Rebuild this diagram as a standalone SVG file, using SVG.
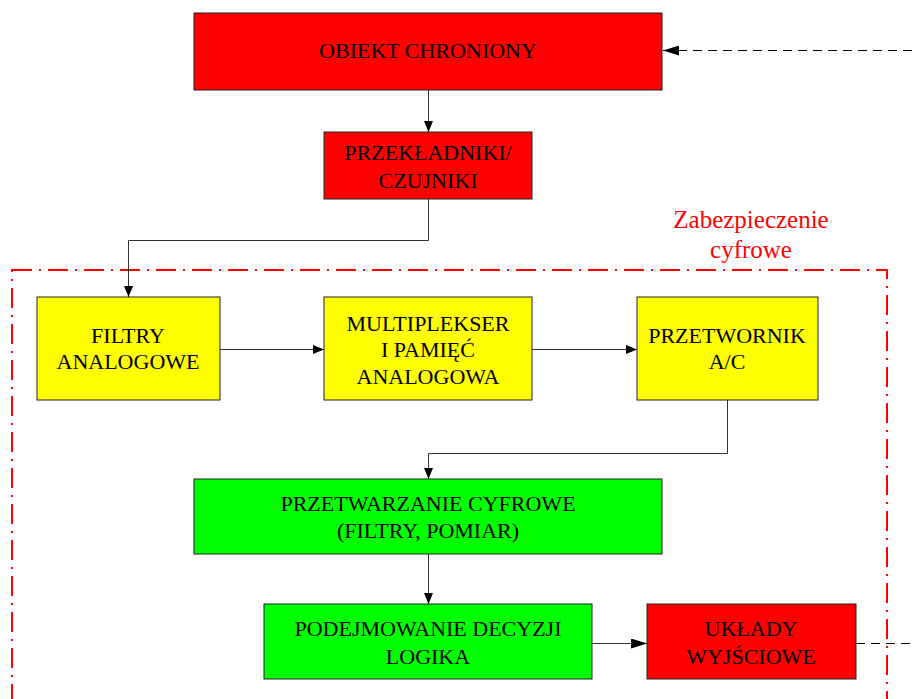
<svg xmlns="http://www.w3.org/2000/svg" width="912" height="699" viewBox="0 0 912 699">
<style>
.box{stroke:#222;stroke-width:1}
.red{fill:#ff0000}
.yel{fill:#ffff00}
.grn{fill:#00ff00}
text{font-family:"Liberation Serif","Times New Roman",serif;font-size:22px;fill:#000;text-anchor:middle}
.lbl{fill:#ff0000;font-size:25px}
.con{fill:none;stroke:#333;stroke-width:1}
.dash{fill:none;stroke:#000;stroke-width:1.2;stroke-dasharray:9,6}
</style>
<defs>
<marker id="a" markerWidth="11" markerHeight="9" refX="11" refY="4.5" orient="auto" markerUnits="userSpaceOnUse"><path d="M0,0L11,4.5L0,9Z" fill="#000"/></marker>
<marker id="b" markerWidth="16" markerHeight="10" refX="16" refY="5" orient="auto" markerUnits="userSpaceOnUse"><path d="M0,0L16,5L0,10Z" fill="#000"/></marker>
</defs>
<g id="border">
<rect x="12" y="270" width="875" height="440" fill="none" stroke="#ff0000" stroke-width="2" stroke-dasharray="20,7,2,7"/>
<text class="lbl" x="751" y="228">Zabezpieczenie</text>
<text class="lbl" x="751" y="258">cyfrowe</text>
</g>
<g id="connectors">
<path class="con" d="M428.5,90V132" marker-end="url(#a)"/>
<path class="con" d="M428.5,199V240.5H128.5V297" marker-end="url(#a)"/>
<path class="con" d="M220,349.5H324" marker-end="url(#a)"/>
<path class="con" d="M532,349.5H637" marker-end="url(#a)"/>
<path class="con" d="M727.5,400V453.5H428.5V479" marker-end="url(#a)"/>
<path class="con" d="M428.5,554V604" marker-end="url(#a)"/>
<path class="con" d="M592,643.5H647" marker-end="url(#b)"/>
<path class="dash" d="M856,643.5H912"/>
<path class="dash" d="M912,50.5H663" marker-end="url(#b)"/>
</g>
<g id="obiekt"><rect class="box red" x="194" y="13" width="468" height="77"/><text x="428" y="58">OBIEKT CHRONIONY</text></g>
<g id="przekladniki"><rect class="box red" x="324" y="132" width="208" height="67"/><text x="428" y="160">PRZEKŁADNIKI/</text><text x="428" y="188">CZUJNIKI</text></g>
<g id="filtry"><rect class="box yel" x="37" y="297" width="183" height="103"/><text x="128" y="343">FILTRY</text><text x="128" y="369">ANALOGOWE</text></g>
<g id="multiplekser"><rect class="box yel" x="324" y="297" width="208" height="103"/><text x="428" y="331">MULTIPLEKSER</text><text x="428" y="357">I PAMIĘĆ</text><text x="428" y="384">ANALOGOWA</text></g>
<g id="przetwornik"><rect class="box yel" x="637" y="297" width="181" height="103"/><text x="727" y="343">PRZETWORNIK</text><text x="727" y="369">A/C</text></g>
<g id="przetwarzanie"><rect class="box grn" x="194" y="479" width="468" height="75"/><text x="428" y="511">PRZETWARZANIE CYFROWE</text><text x="428" y="538">(FILTRY, POMIAR)</text></g>
<g id="podejmowanie"><rect class="box grn" x="264" y="604" width="328" height="75"/><text x="428" y="636">PODEJMOWANIE DECYZJI</text><text x="428" y="664">LOGIKA</text></g>
<g id="uklady"><rect class="box red" x="647" y="604" width="209" height="75"/><text x="751" y="636">UKŁADY</text><text x="751" y="664">WYJŚCIOWE</text></g>
</svg>
